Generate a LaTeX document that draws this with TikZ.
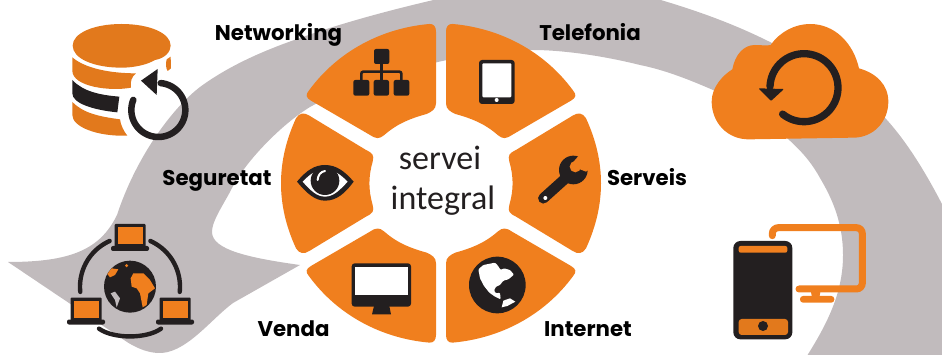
\documentclass[tikz,border=0pt]{standalone}
\usepackage{fontspec}
\setmainfont{Carlito}
\newfontfamily\labelfont{Poppins}[BoldFont={Poppins Bold}]
\definecolor{band}{HTML}{C1BBBD}
\definecolor{wheel}{HTML}{F07F1E}
\definecolor{dbor}{HTML}{E2791C}
\definecolor{ink}{HTML}{231F20}
\tikzset{
  lab/.style={anchor=base,inner sep=0pt,font=\labelfont\bfseries\fontsize{21.3}{24}\selectfont,text=black},
  centre/.style={anchor=base,inner sep=0pt,font=\fontsize{34}{36}\selectfont,text=ink},
  zoomed/.style={shift={#1},scale=1/3},
}
\newcommand{\laptopat}[2]{%
 \begin{scope}[shift={(#1,#2)}]
  \fill[ink,rounded corners=1pt] (0,0) rectangle (31,24);
  \fill[wheel] (3,3) rectangle (28,20);
  \fill[ink,rounded corners=2pt] (-3.5,22) rectangle (34.5,27);
 \end{scope}}
\begin{document}
\begin{tikzpicture}[x=1pt,y=-1pt]
\useasboundingbox (0,0) rectangle (942,355);
% grey band
\fill[band] (8,262) .. controls (70,262) and (100,250) .. (117,215)
  .. controls (135,160) and (170,110) .. (200,87)
  .. controls (230,65) and (265,50) .. (300,38)
  .. controls (350,20) and (410,5) .. (460,-6)
  -- (640,-6) .. controls (690,8) and (730,22) .. (770,42)
  .. controls (815,65) and (865,95) .. (887,120)
  .. controls (905,140) and (925,170) .. (946,212)
  -- (946,359) -- (805,359)
  .. controls (830,320) and (843,290) .. (843,255)
  .. controls (843,220) and (830,195) .. (820,178)
  .. controls (810,160) and (800,150) .. (787,138)
  .. controls (765,118) and (740,105) .. (713,90)
  .. controls (690,80) and (665,70) .. (640,65)
  .. controls (600,55) and (560,50) .. (533,50)
  .. controls (500,50) and (470,55) .. (447,60)
  .. controls (400,70) and (350,85) .. (310,107)
  .. controls (285,122) and (245,160) .. (230,192)
  .. controls (220,210) and (212,222) .. (212,232)
  .. controls (212,250) and (250,258) .. (300,265)
  -- (233,303) .. controls (210,320) and (185,355) .. (157,353)
  .. controls (145,352) and (135,347) .. (127,342) -- cycle;
% wheel sectors
\begin{scope}[zoomed={(441,183.3)}]
 \foreach \sx/\sy in {1/1,-1/1,1/-1,-1/-1}{
  \fill[wheel,xscale=\sx,yscale=\sy]
   (-15,-455) -- (-15,-240) .. controls (-15,-222) and (-28,-215) .. (-43,-208)
   .. controls (-90,-195) and (-130,-180) .. (-170,-145)
   .. controls (-185,-132) and (-195,-133) .. (-213,-145)
   -- (-390,-248) .. controls (-405,-257) and (-408,-265) .. (-395,-280)
   .. controls (-310,-395) and (-180,-465) .. (-35,-478)
   .. controls (-22,-479) and (-15,-470) .. (-15,-455) -- cycle;
 }
 \foreach \sx in {1,-1}{
  \fill[wheel,xscale=\sx]
   (-225,-100) -- (-395,-203) .. controls (-410,-213) and (-425,-212) .. (-435,-195)
   .. controls (-495,-65) and (-495,65) .. (-435,195)
   .. controls (-425,212) and (-410,213) .. (-395,203)
   -- (-225,100) .. controls (-205,90) and (-200,85) .. (-205,65)
   .. controls (-218,20) and (-218,-20) .. (-205,-65)
   .. controls (-200,-85) and (-205,-90) .. (-225,-100) -- cycle;
 }
\end{scope}
% network icon, tablet, monitor
\begin{scope}[zoomed={(280,10)}]
 \fill[ink,rounded corners=2pt] (282,117) rectangle (328,162);
 \fill[ink,rounded corners=2pt] (220,210) rectangle (268,257);
 \fill[ink,rounded corners=2pt] (281,210) rectangle (327,257);
 \fill[ink,rounded corners=2pt] (341,210) rectangle (388,257);
 \draw[ink,line width=2.6pt,rounded corners=2pt] (244,215) -- (244,185) -- (364,185) -- (364,215);
 \draw[ink,line width=2.6pt] (304,160) -- (304,215);
 \fill[ink,rounded corners=3pt] (597,150) rectangle (704,282);
 \fill[white,rounded corners=1pt] (607,160) rectangle (694,262);
 \fill[white] (650,270) circle (6);
 \fill[ink] (282,888) -- (328,888) -- (333,913) -- (276,913) -- cycle;
 \fill[ink,rounded corners=3pt] (215,760) rectangle (393,890);
 \fill[white] (225,770) rectangle (383,855);
\end{scope}
% wrench
\begin{scope}[zoomed={(530,150)}]
 \draw[ink,line width=10.5pt,line cap=round] (40,145) -- (110,82);
 \fill[ink] (130,60) circle (43);
 \fill[wheel] (136,50) circle (17);
 \fill[wheel] (128,38) -- (148,15) -- (190,50) -- (168,65) -- (150,58) -- cycle;
 \fill[white] (46,144) circle (6);
\end{scope}
% eye
\begin{scope}[zoomed={(290,150)}]
 \fill[ink] (21,95) .. controls (50,60) and (75,45) .. (105,45) .. controls (140,45) and (165,65) .. (191,95)
  .. controls (165,130) and (140,152) .. (105,152) .. controls (75,152) and (50,130) .. (21,95) -- cycle;
 \fill[white] (38,95) .. controls (60,72) and (80,58) .. (105,58) .. controls (130,58) and (150,72) .. (173,95)
  .. controls (150,120) and (130,140) .. (105,140) .. controls (80,140) and (60,120) .. (38,95) -- cycle;
 \fill[ink] (105,92) circle (43);
 \draw[white,line width=2pt,line cap=round] (83,90) .. controls (84,75) and (92,65) .. (105,63);
\end{scope}
% Americas globe
\begin{scope}[zoomed={(460,250)}]
 \fill[ink] (112,105) circle (85);
 \fill[white,rounded corners=1pt] (55,58) -- (70,45) -- (105,38) -- (113,46) -- (122,60) -- (132,55) -- (150,60) -- (162,74) -- (145,88) -- (130,92) -- (120,105) -- (108,110) -- (102,122) -- (108,130) -- (120,128) -- (122,148) -- (105,140) -- (88,128) -- (72,108) -- (60,85) -- cycle;
 \fill[white] (125,172) -- (130,152) -- (150,145) -- (166,155) -- (142,168) -- cycle;
\end{scope}
% database
\begin{scope}[zoomed={(0,0)}]
 \fill[dbor] (365,72) .. controls (450,72) and (512,100) .. (512,137) .. controls (512,155) and (495,175) .. (465,180)
   .. controls (440,195) and (400,203) .. (365,203) .. controls (280,203) and (218,175) .. (218,137) .. controls (218,100) and (280,72) .. (365,72) -- cycle;
 \fill[dbor] (217,172) .. controls (255,205) and (330,220) .. (408,220) .. controls (395,230) and (390,245) .. (393,263)
   .. controls (330,275) and (217,260) .. (217,212) -- cycle;
 \fill[dbor] (500,178) -- (512,170) -- (513,205) -- (503,213) .. controls (497,205) and (497,190) .. (500,178) -- cycle;
 \fill[ink] (217,240) .. controls (250,275) and (300,285) .. (358,290) -- (352,337)
   .. controls (280,330) and (217,310) .. (217,280) -- cycle;
 \fill[dbor] (217,306) .. controls (250,340) and (300,350) .. (360,358) .. controls (362,375) and (372,395) .. (382,407)
   .. controls (290,410) and (217,380) .. (217,345) -- cycle;
 \draw[ink,line width=6.5pt,line cap=round] plot[domain=-85:202,samples=60,smooth] ({475+81*cos(\x)},{330+81*sin(\x)});
 \fill[ink] (423,242) -- (473,207) -- (470,285) -- cycle;
\end{scope}
% laptops and Old World globe
\begin{scope}[zoomed={(0,175)}]
 \fill[ink] (390,335) circle (78);
 \begin{scope}[shift={(270,225)}]
  \fill[wheel] (122,85) -- (130,70) -- (160,70) -- (180,90) -- (195,115) -- (175,130) -- (170,165) -- (158,172) -- (150,130) -- (140,115) -- (125,110) -- cycle;
  \fill[wheel] (52,72) -- (65,55) -- (85,58) -- (75,75) -- (60,82) -- cycle;
  \fill[wheel] (110,47) circle (5);
  \fill[band] (62,130) -- (75,125) -- (90,145) -- (80,172) -- (75,150) -- cycle;
 \end{scope}
 \draw[ink,line width=4.4pt,line cap=round] plot[domain=-186:-114,samples=20,smooth] ({390+150*cos(\x)},{335+150*sin(\x)});
 \draw[ink,line width=4.4pt,line cap=round] plot[domain=-66:6,samples=20,smooth] ({390+150*cos(\x)},{335+150*sin(\x)});
 \draw[ink,line width=4.4pt,line cap=round] (297,461) .. controls (340,492) and (440,492) .. (483,461);
\end{scope}
\laptopat{114.5}{224}
\laptopat{70.5}{297.5}
\laptopat{159.5}{297.5}
% cloud
\begin{scope}[zoomed={(640,0)}]
 \fill[wheel] (330,418) .. controls (260,420) and (215,365) .. (215,305) .. controls (215,260) and (250,225) .. (277,208)
  .. controls (285,165) and (310,135) .. (345,135) .. controls (365,135) and (380,138) .. (392,135)
  .. controls (420,95) and (465,72) .. (510,72) .. controls (585,72) and (640,130) .. (657,205)
  .. controls (710,220) and (745,255) .. (745,305) .. controls (745,365) and (700,413) .. (640,413) -- cycle;
 \draw[ink,line width=7.3pt,line cap=round] plot[domain=-178:129,samples=60,smooth] ({492+102*cos(\x)},{263+102*sin(\x)});
 \fill[ink,rounded corners=1pt] (355,265) -- (432,267) -- (393,303) -- cycle;
\end{scope}
% phone and monitor
\begin{scope}[zoomed={(640,175)}]
 \draw[wheel,line width=7pt,line cap=round,rounded corners=6pt] (397,182) -- (397,158) -- (667,158) -- (667,342) -- (477,342);
 \fill[wheel] (512,345) -- (542,345) -- (538,368) -- (516,368) -- cycle;
 \fill[wheel,rounded corners=3pt] (480,363) rectangle (583,383);
 \fill[ink,rounded corners=7pt] (280,198) rectangle (457,493);
 \fill[wheel,rounded corners=2pt] (296,213) rectangle (442,233);
 \fill[dbor,rounded corners=3pt] (296,432) rectangle (444,480);
 \fill[ink] (369,453) circle (15);
\end{scope}
% labels
\node[lab] (networking) at (278.5,41) {Networking};
\node[lab] (telefonia) at (590,41) {Telefonia};
\node[lab] (seguretat) at (217,186) {Seguretat};
\node[lab] (serveis) at (647,186) {Serveis};
\node[lab] (venda) at (293.5,336) {Venda};
\node[lab] (internet) at (588,336) {Internet};
\node[centre] (servei) at (440,170) {servei};
\node[centre] (integral) at (443,210) {integral};
\end{tikzpicture}
\end{document}
